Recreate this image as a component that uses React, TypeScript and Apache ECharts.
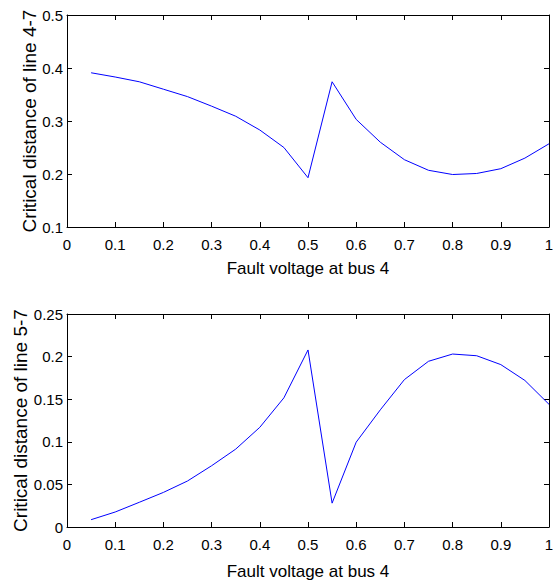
import React, { useEffect, useRef } from "react";
import * as echarts from "echarts";

const faultVoltage = [0.05, 0.1, 0.15, 0.2, 0.25, 0.3, 0.35, 0.4, 0.45, 0.5, 0.55, 0.6, 0.65, 0.7, 0.75, 0.8, 0.85, 0.9, 0.95, 1.0];
const line47 = [0.391, 0.383, 0.374, 0.36, 0.346, 0.328, 0.309, 0.283, 0.25, 0.193, 0.374, 0.303, 0.26, 0.227, 0.207, 0.199, 0.201, 0.21, 0.23, 0.257];
const line57 = [0.0086, 0.0176, 0.029, 0.0406, 0.054, 0.0719, 0.0914, 0.117, 0.1516, 0.2078, 0.028, 0.0996, 0.1375, 0.173, 0.1945, 0.203, 0.201, 0.1906, 0.172, 0.144];

const xLabel = "Fault voltage at bus 4";
const yLabelTop = "Critical distance of line 4-7";
const yLabelBottom = "Critical distance of line 5-7";

const FONT = "'Liberation Sans', Arial, sans-serif";

export default function App() {
  const ref = useRef<HTMLDivElement>(null);
  useEffect(() => {
    if (!ref.current) return;
    const chart = echarts.init(ref.current, null, { renderer: "svg" });
    const labelStyle = { color: "#000", fontFamily: FONT, fontSize: 15 };
    const fmt = (v: number) => String(Math.round(v * 1000) / 1000);
    const mkX = (gridIndex: number, main: boolean, gap: number) => ({
      type: "value",
      gridIndex,
      position: main ? "bottom" : "top",
      min: 0,
      max: 1,
      interval: 0.1,
      axisLine: { show: true, onZero: false, lineStyle: { color: "#000", width: 1 } },
      axisTick: { show: true, inside: true, length: 5, lineStyle: { color: "#000" } },
      axisLabel: { show: main, ...labelStyle, margin: 10, formatter: fmt },
      splitLine: { show: false },
      name: main ? xLabel : "",
      nameLocation: "middle",
      nameGap: gap,
      nameMoveOverlap: false,
      nameTextStyle: { ...labelStyle, fontSize: 17 },
    });
    const mkY = (gridIndex: number, main: boolean, min: number, max: number, interval: number, name: string, gap: number) => ({
      type: "value",
      gridIndex,
      position: main ? "left" : "right",
      min,
      max,
      interval,
      axisLine: { show: true, onZero: false, lineStyle: { color: "#000", width: 1 } },
      axisTick: { show: true, inside: true, length: 5, lineStyle: { color: "#000" } },
      axisLabel: { show: main, ...labelStyle, margin: 4, formatter: fmt },
      splitLine: { show: false },
      name: main ? name : "",
      nameLocation: "middle",
      nameGap: gap,
      nameMoveOverlap: false,
      nameTextStyle: { ...labelStyle, fontSize: 19 },
    });
    chart.setOption({
      animation: false,
      backgroundColor: "#fff",
      grid: [
        { left: 67, right: 8, top: 15, height: 212, containLabel: false, outerBoundsMode: "none" },
        { left: 67, right: 8, top: 314, height: 213, containLabel: false, outerBoundsMode: "none" },
      ],
      xAxis: [mkX(0, true, 33), mkX(0, false, 0), mkX(1, true, 36), mkX(1, false, 0)],
      yAxis: [
        mkY(0, true, 0.1, 0.5, 0.1, yLabelTop, 28),
        mkY(0, false, 0.1, 0.5, 0.1, "", 0),
        mkY(1, true, 0, 0.25, 0.05, yLabelBottom, 37),
        mkY(1, false, 0, 0.25, 0.05, "", 0),
      ],
      series: [
        {
          type: "line",
          xAxisIndex: 0,
          yAxisIndex: 0,
          data: faultVoltage.map((x, i) => [x, line47[i]]),
          showSymbol: false,
          lineStyle: { color: "#0000ff", width: 1 },
          itemStyle: { color: "#0000ff" },
        },
        {
          type: "line",
          xAxisIndex: 2,
          yAxisIndex: 2,
          data: faultVoltage.map((x, i) => [x, line57[i]]),
          showSymbol: false,
          lineStyle: { color: "#0000ff", width: 1 },
          itemStyle: { color: "#0000ff" },
        },
      ],
    });
    return () => chart.dispose();
  }, []);
  return <div ref={ref} style={{ width: 557, height: 582, position: "absolute", left: 0, top: 0 }} />;
}
